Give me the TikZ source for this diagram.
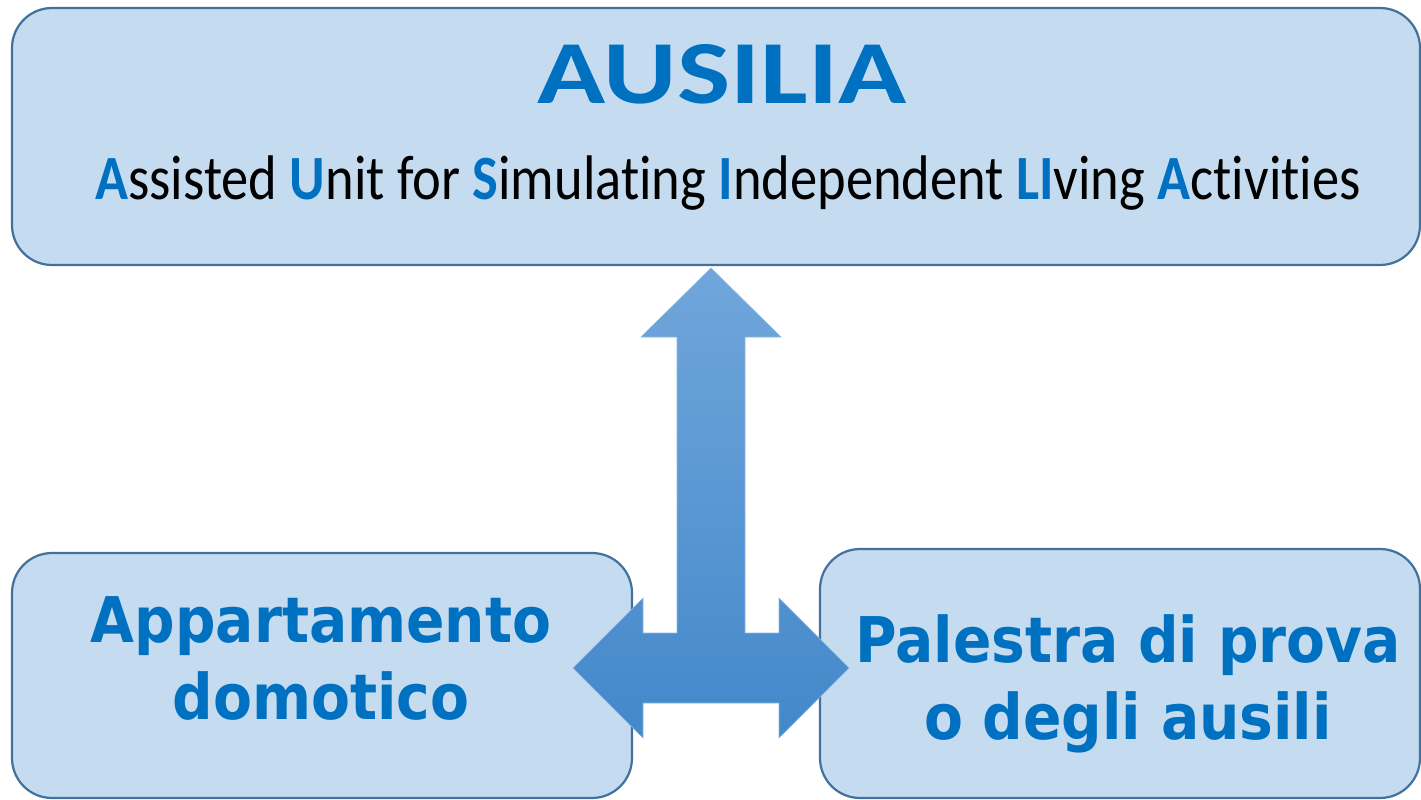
\documentclass[tikz,border=0pt]{standalone}
\usepackage{fontspec}
\setmainfont{Carlito}
\newfontfamily\titlefont[FakeStretch=1.25]{Carlito}
\newfontfamily\subfont[FakeStretch=0.865,RawFeature={-liga}]{Carlito}
\newfontfamily\boxfont[FakeStretch=0.9]{DejaVu Sans}

\definecolor{boxfill}{HTML}{C5DBEF}
\definecolor{boxline}{HTML}{41719C}
\definecolor{ausblue}{HTML}{0070C0}
\definecolor{arrowtop}{HTML}{70A6DB}
\definecolor{arrowbot}{HTML}{4388CA}
\definecolor{arrowedge}{HTML}{8DB8E3}

\newcommand{\ausinit}[1]{{\bfseries\color{ausblue}#1}}

\begin{document}
\begin{tikzpicture}[x=1pt,y=-1pt,
    panel/.style={draw=boxline,line width=2.2pt,fill=boxfill,rounded corners=40pt},
    boxtext/.style={text=ausblue,align=center,font=\boxfont\bfseries\fontsize{63}{77}\selectfont}]
    \useasboundingbox (0,0) rectangle (1421,800);

    % Boxes
    \node[panel,minimum width=1408pt,minimum height=257pt] (ausilia) at (716,136.5) {};
    \node[panel,minimum width=620pt,minimum height=245pt] (flat) at (322,675.5) {};
    \node[panel,minimum width=600pt,minimum height=249pt] (gym) at (1120,673.5) {};

    % Texts
    \node[anchor=base,text=ausblue,font=\titlefont\bfseries\fontsize{90}{90}\selectfont] (title) at (722,103) {AUSILIA};
    \node[anchor=base,font=\subfont\fontsize{63}{63}\selectfont] (subtitle) at (728,199)
        {\ausinit{A}ssisted \ausinit{U}nit for \ausinit{S}imulating \ausinit{I}ndependent \ausinit{LI}ving \ausinit{A}ctivities};
    \node[boxtext] (flattext) at (321,658.5) {Appartamento\\domotico};
    \node[boxtext] (gymtext) at (1128,683.5) {Palestra di prova\\o degli ausili};

    % Arrow coordinates
    \coordinate (up) at (711,268);
    \coordinate (lt) at (573,668);
    \coordinate (rt) at (849,668);

    % Draw the three-way arrow
    \path[draw=arrowedge,line width=0.6pt,top color=arrowtop,bottom color=arrowbot]
        (up) -- ++(70,69) -- ++(-36,0) -- (745,633) -- (779,633) -- ++(0,-35)
        -- (rt) -- (779,738) -- ++(0,-35) -- (643,703) -- ++(0,35)
        -- (lt) -- (643,598) -- ++(0,35) -- (677,633) -- (677,337) -- ++(-36,0) -- cycle;
\end{tikzpicture}
\end{document}
